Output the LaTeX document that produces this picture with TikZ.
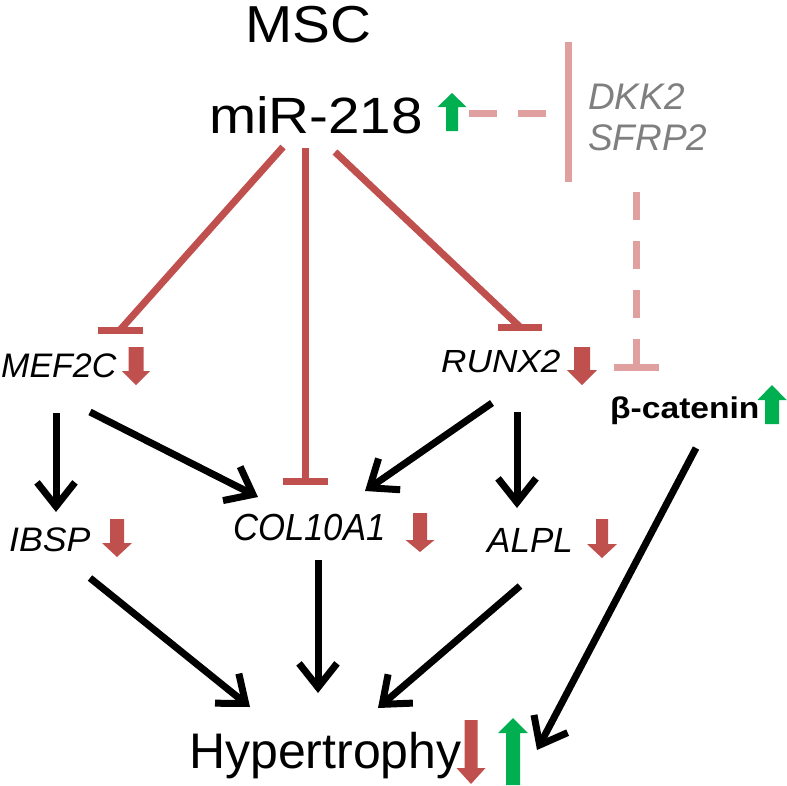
\documentclass[tikz,border=0pt]{standalone}
\usepackage{fontspec}
\setmainfont{Liberation Sans}
\usetikzlibrary{arrows.meta}
\definecolor{rd}{HTML}{C0504D}
\definecolor{gr}{HTML}{00B050}
\definecolor{pk}{HTML}{E0A0A0}
\definecolor{gy}{HTML}{7F7F7F}
% #1 x, #2 tail y, #3 head base y, #4 tip y, #5 shaft half width, #6 head half width, #7 colour
\newcommand\blockarr[7]{\fill[#7] (#1-#5,#2) -- (#1+#5,#2) -- (#1+#5,#3) -- (#1+#6,#3) -- (#1,#4) -- (#1-#6,#3) -- (#1-#5,#3) -- cycle;}
\newcommand\fs[1]{\fontsize{#1}{#1}\selectfont}
\begin{document}
\begin{tikzpicture}[x=1pt,y=-1pt,
  lbl/.style={inner sep=0pt, anchor=base west},
  blk/.style={draw=black, line width=7pt, -{Straight Barb[length=24pt,width=38pt]}},
  inh/.style={draw=rd, line width=7pt},
  pkd/.style={draw=pk, line width=7pt, dash pattern=on 28pt off 21pt},
  pkl/.style={draw=pk, line width=7pt}]
\useasboundingbox (0,0) rectangle (787,785);

% texts
\node[inner sep=0pt, anchor=base, font=\fs{52}] (msc) at (308,42) {\scalebox{1.09}[1]{MSC}};
\node[inner sep=0pt, anchor=base, font=\fs{51}] (mir) at (316,133) {\scalebox{1.11}[1]{miR-218}};
\node[lbl, font=\fs{37}\itshape, text=gy] (dkk) at (588,109) {DKK2};
\node[lbl, font=\fs{37}\itshape, text=gy] (sfrp) at (588,150) {SFRP2};
\node[lbl, font=\fs{34}\itshape] (mef) at (1,377) {MEF2C};
\node[lbl, font=\fs{32}\itshape] (runx) at (441,372) {\scalebox{1.1}[1]{RUNX2}};
\node[lbl, font=\fs{30}\bfseries] (bcat) at (610,418) {\scalebox{1.12}[1]{β-catenin}};
\node[lbl, font=\fs{34}\itshape] (ibsp) at (9,551) {\scalebox{1.05}[1]{IBSP}};
\node[lbl, font=\fs{37.7}\itshape] (col) at (233,540) {\scalebox{0.92}[1]{COL10A1}};
\node[lbl, font=\fs{35}\itshape] (alpl) at (487,552) {ALPL};
\node[lbl, font=\fs{50}] (hyp) at (189,768) {Hypertrophy};

% connector end points
\coordinate (mirL) at (283,147);
\coordinate (mirC) at (305,148);
\coordinate (mirR) at (335,152);
\coordinate (tMef) at (120,330);
\coordinate (tCol) at (305,481);
\coordinate (tRun) at (520,327);
\coordinate (dashA) at (468,113);
\coordinate (dashB) at (546,113);
\coordinate (barTop) at (568,42);
\coordinate (barBot) at (568,182);
\coordinate (vdA) at (636,192);
\coordinate (tBcat) at (636,364);

\coordinate (mefS1) at (56,413);   \coordinate (ibspN) at (56,512);
\coordinate (mefS2) at (90,412);   \coordinate (colNW) at (258,497);
\coordinate (runS1) at (492,403);  \coordinate (colNE) at (365,491);
\coordinate (runS2) at (517,412);  \coordinate (alplN) at (517,508);
\coordinate (ibspS) at (90,578);   \coordinate (hypNW) at (250,707);
\coordinate (colS) at (318,560);   \coordinate (hypN) at (318,693);
\coordinate (alplS) at (520,586);  \coordinate (hypNE) at (378,708);
\coordinate (bcatS) at (696,448);  \coordinate (hypE) at (537,750);

% inhibition from miR-218
\draw[inh] (mirL) -- (tMef);
\draw[inh] ([xshift=-22.5pt]tMef) -- ([xshift=22.5pt]tMef);
\draw[inh] (mirC) -- (tCol);
\draw[inh] ([xshift=-22.5pt]tCol) -- ([xshift=22.5pt]tCol);
\draw[inh] (mirR) -- (tRun);
\draw[inh] ([xshift=-22pt]tRun) -- ([xshift=22pt]tRun);

% DKK2 / SFRP2 dashed inhibitions
\draw[pkd] (dashB) -- (dashA);
\draw[pkl] (barTop) -- (barBot);
\draw[pkd] (vdA) -- (tBcat);
\draw[pkl] ([xshift=-22.5pt,yshift=-3pt]tBcat) -- ([xshift=22.5pt,yshift=-3pt]tBcat);

% activation arrows
\draw[blk] (mefS1) -- (ibspN);
\draw[blk] (mefS2) -- (colNW);
\draw[blk] (runS1) -- (colNE);
\draw[blk] (runS2) -- (alplN);
\draw[blk] (ibspS) -- (hypNW);
\draw[blk] (colS) -- (hypN);
\draw[blk] (alplS) -- (hypNE);
\draw[blk] (bcatS) -- (hypE);

% up / down block arrows
\blockarr{452}{131}{107}{93}{6}{14.5}{gr}
\blockarr{136}{347}{371}{385}{7.5}{14}{rd}
\blockarr{582}{347}{370}{385}{8}{15}{rd}
\blockarr{772}{424}{400}{385}{7}{14.5}{gr}
\blockarr{117}{519}{543}{557}{7}{15}{rd}
\blockarr{420}{513}{540}{552}{7}{14.5}{rd}
\blockarr{602}{519}{544}{558}{6}{15}{rd}
\blockarr{471}{720}{768}{784}{6.5}{14.5}{rd}
\blockarr{513}{785}{733}{718}{7}{15}{gr}
\end{tikzpicture}
\end{document}
